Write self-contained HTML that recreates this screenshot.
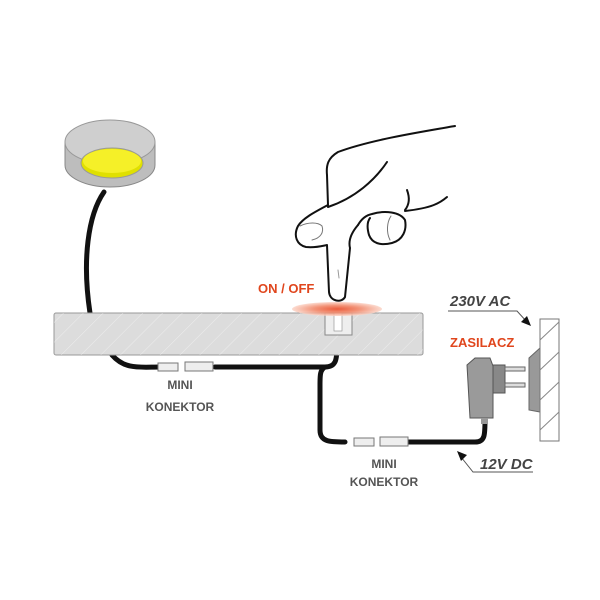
<!DOCTYPE html>
<html><head><style>body{margin:0;background:#fff}svg{display:block}</style></head><body>
<svg width="600" height="600" viewBox="0 0 600 600" xmlns="http://www.w3.org/2000/svg" font-family="Liberation Sans, sans-serif">
<defs>
<pattern id="h" width="14" height="14" patternUnits="userSpaceOnUse" patternTransform="rotate(45)"><line x1="0" y1="0" x2="0" y2="14" stroke="#fff" stroke-width="1"/></pattern>
<radialGradient id="g"><stop offset="0" stop-color="#e8401a"/><stop offset="0.5" stop-color="#f08060"/><stop offset="1" stop-color="#fbd5c8"/></radialGradient>
</defs>
<!-- lamp -->
<path d="M65 142 L65 165 A45 22 0 0 0 155 165 L155 142 Z" fill="#bdbdbd" stroke="#888"/>
<ellipse cx="110" cy="142" rx="45" ry="22" fill="#cfcfcf" stroke="#999"/>
<ellipse cx="112" cy="163" rx="31" ry="15" fill="#e0e000" stroke="#999"/>
<ellipse cx="112" cy="161" rx="29" ry="12" fill="#f5f028"/>
<!-- cables -->
<g fill="none" stroke="#111" stroke-width="5" stroke-linecap="round">
<path d="M104 192 C88 215 82 260 90 313"/>
<path d="M112 355 C125 370 140 367 160 367"/>
<path d="M215 367 L325 367 C336 367 337 360 337 345 L337 332"/>
<path d="M325 367 C320 370 320 375 320 385 L320 430 C320 442 330 442 345 442"/>
<path d="M405 442 L475 442 C485 442 485 435 485 420"/>
</g>
<!-- shelf -->
<rect x="54" y="313" width="369" height="42" rx="2" fill="#dcdcdc" stroke="#999"/>
<rect x="54" y="313" width="369" height="42" fill="url(#h)" opacity="0.5"/>
<rect x="325" y="313" width="27" height="22" fill="#eee" stroke="#888"/>
<rect x="334" y="313" width="8" height="18" fill="#fff" stroke="#999" stroke-width="0.7"/>
<ellipse cx="337" cy="309" rx="45" ry="7" fill="url(#g)" opacity="0.85"/>
<!-- connectors -->
<g fill="#eee" stroke="#777">
<rect x="158" y="363" width="20" height="8"/><rect x="185" y="362" width="28" height="9"/>
<rect x="354" y="438" width="20" height="8"/><rect x="380" y="437" width="28" height="9"/>
</g>
<!-- hand -->
<g fill="none" stroke="#111" stroke-width="2" stroke-linejoin="round" stroke-linecap="round">
<path d="M455 126 C420 132 370 140 338 152 C328 158 326 165 327 175 L328 205"/>
<path d="M328 205 C315 212 303 218 298 226 C293 236 297 245 306 247 C315 248 322 246 327 245 L329 292 C330 302 342 303 345 297 L350 248 C348 240 352 232 358 225"/>
<path d="M387 162 C375 180 355 198 328 207"/>
<path d="M407 190 C410 198 409 205 405 210"/>
<path d="M447 197 C440 203 432 208 405 211"/>
<path d="M358 225 C362 218 367 215 372 214 C385 210 400 212 405 220 C407 230 403 240 392 243 C380 246 372 243 369 235 C367 228 367 222 370 218"/>
<path d="M300 226 C308 222 318 222 322 226 C324 232 321 238 312 240" stroke-width="1" stroke="#777"/>
<path d="M391 216 C387 222 386 232 390 240" stroke-width="1" stroke="#777"/>
<path d="M338 270 L339 278" stroke-width="1" stroke="#999"/>
</g>
<!-- adapter -->
<path d="M467 365 L475 358 L490 358 L493 366 L493 418 L470 418 Z" fill="#9a9a9a" stroke="#555"/>
<rect x="493" y="365" width="12" height="28" fill="#888" stroke="#555"/>
<g stroke="#666" fill="#ddd"><rect x="505" y="367" width="20" height="4"/><rect x="505" y="383" width="20" height="4"/></g>
<rect x="481" y="418" width="7" height="6" fill="#999"/>
<!-- wall -->
<path d="M529 358 L540 348 L540 412 L529 410 Z" fill="#999" stroke="#666"/>
<rect x="540" y="319" width="19" height="122" fill="#fff" stroke="#777"/>
<g stroke="#888"><line x1="540" y1="340" x2="559" y2="322"/><line x1="540" y1="370" x2="559" y2="352"/><line x1="540" y1="400" x2="559" y2="382"/><line x1="540" y1="430" x2="559" y2="412"/></g>
<!-- labels -->
<text x="258" y="293" fill="#e0461d" font-weight="bold" font-size="13">ON / OFF</text>
<text x="450" y="306" fill="#444" font-weight="bold" font-style="italic" font-size="15">230V AC</text>
<path d="M448 311 L517 311 L527 322" fill="none" stroke="#555"/>
<path d="M531 326 L521 322 L527 316 Z" fill="#111"/>
<text x="450" y="347" fill="#e0461d" font-weight="bold" font-size="13">ZASILACZ</text>
<text x="480" y="469" fill="#444" font-weight="bold" font-style="italic" font-size="15">12V DC</text>
<path d="M533 472 L473 472 L461 457" fill="none" stroke="#555"/>
<path d="M457 451 L467 455 L461 461 Z" fill="#111"/>
<g fill="#555" font-weight="bold" font-size="12" text-anchor="middle">
<text x="180" y="389">MINI</text><text x="180" y="411">KONEKTOR</text>
<text x="384" y="468">MINI</text><text x="384" y="486">KONEKTOR</text>
</g>
</svg>
</body></html>
